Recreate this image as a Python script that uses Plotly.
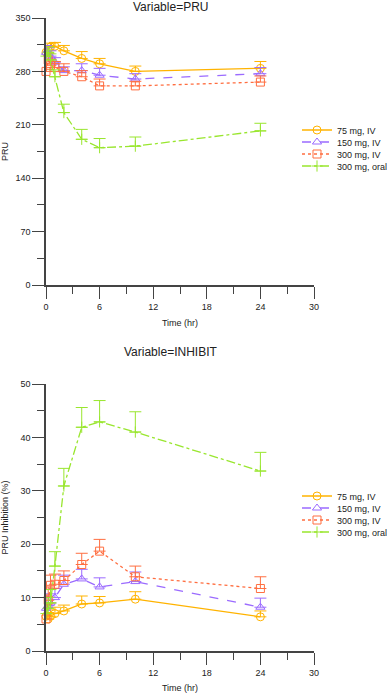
import plotly.graph_objects as go
from plotly.subplots import make_subplots

times = [0, 0.25, 0.5, 1, 2, 4, 6, 10, 24]
groups = ["75 mg, IV", "150 mg, IV", "300 mg, IV", "300 mg, oral"]

# PRU means and (upper) errors
pru_75 = [305, 308, 312, 313, 307, 297, 290, 280, 284]
pru_75_err = [8, 6, 5, 5, 7, 9, 7, 7, 9]
pru_150 = [305, 303, 300, 292, 281, 281, 275, 270, 277]
pru_150_err = [9, 8, 7, 6, 5, 9, 9, 7, 8]
pru_300 = [280, 295, 288, 285, 280, 273, 261, 261, 266]
pru_300_err = [10, 9, 8, 8, 10, 8, 9, 6, 8]
pru_oral = [300, 305, 295, 273, 226, 191, 180, 182, 202]
pru_oral_err = [8, 7, 8, 9, 11, 13, 12, 12, 10]

# PRU inhibition (%) means and (upper) errors
inh_75 = [6.5, 6.0, 6.5, 7.0, 7.5, 8.8, 9.0, 9.7, 6.4]
inh_75_err = [1.5, 1.2, 1.2, 1.2, 1.1, 1.5, 1.2, 1.4, 1.1]
inh_150 = [8.0, 8.5, 9.0, 10.0, 12.5, 13.5, 12.0, 13.0, 8.2]
inh_150_err = [2.0, 1.8, 1.7, 1.7, 1.7, 1.8, 1.7, 1.8, 1.7]
inh_300 = [6.0, 9.5, 12.3, 12.5, 13.2, 16.2, 18.7, 13.9, 11.7]
inh_300_err = [4.5, 2.5, 1.9, 1.9, 1.8, 2.1, 2.2, 2.0, 2.2]
inh_oral = [7.0, 8.0, 9.0, 15.9, 30.9, 41.9, 42.9, 41.0, 33.7]
inh_oral_err = [2.0, 2.0, 2.5, 2.7, 3.3, 3.7, 4.0, 3.8, 3.5]

colors = ["#FFB300", "#9B6BFF", "#FF6E40", "#99E62E"]
dashes = ["solid", "dash", "dot", "dashdot"]
symbols = ["circle-open", "triangle-up-open", "square-open", "cross-thin-open"]

pru = [(pru_75, pru_75_err), (pru_150, pru_150_err), (pru_300, pru_300_err), (pru_oral, pru_oral_err)]
inh = [(inh_75, inh_75_err), (inh_150, inh_150_err), (inh_300, inh_300_err), (inh_oral, inh_oral_err)]

FONT = "Liberation Sans"
TXT = "#222222"
W, H = 387, 693
ML, MR, MT, MB = 46, 73, 18, 42
plot_h = H - MT - MB
plot_w = W - ML - MR


def py(px):
    return (H - MB - px) / plot_h


def px_x(px):
    return (px - ML) / plot_w


fig = make_subplots(rows=2, cols=1)

legend_layout = {}
legend_centers = {1: [130, 142, 154, 166], 2: [496, 508, 520, 532]}
k = 0
for row, data in [(1, pru), (2, inh)]:
    for i, (vals, errs) in enumerate(data):
        k += 1
        lname = "legend" if k == 1 else f"legend{k}"
        fig.add_trace(go.Scatter(
            x=times, y=vals, name=groups[i], mode="lines+markers",
            line=dict(color=colors[i], width=1.3, dash=dashes[i]),
            marker=dict(symbol=symbols[i], size=8, color=colors[i],
                        line=dict(width=1, color=colors[i])),
            error_y=dict(type="data", symmetric=False, array=errs,
                         arrayminus=[0] * len(errs), color=colors[i],
                         thickness=1, width=6),
            cliponaxis=False, legend=lname, showlegend=True,
        ), row=row, col=1)
        legend_layout[lname] = dict(
            x=px_x(297), y=py(legend_centers[row][i]),
            xanchor="left", yanchor="middle",
            font=dict(family=FONT, size=9, color=TXT), itemwidth=30,
            bgcolor="rgba(0,0,0,0)", borderwidth=0,
        )

axis_common = dict(showgrid=False, zeroline=False, showline=True,
                   linecolor="#444444", linewidth=1.5, ticks="outside",
                   ticklen=12, tickwidth=1, tickcolor="#444444",
                   tickfont=dict(family=FONT, size=9, color=TXT),
                   mirror=False)

fig.update_xaxes(range=[0, 30], dtick=6, tick0=0,
                 minor=dict(dtick=3, ticklen=7, ticks="outside", tickcolor="#444444"),
                 title=dict(text="Time (hr)", font=dict(family=FONT, size=9, color=TXT), standoff=9),
                 **axis_common)
fig.update_yaxes(range=[0, 350], dtick=70, tick0=0,
                 minor=dict(dtick=35, ticklen=7, ticks="outside", tickcolor="#444444"),
                 title=dict(text="PRU", font=dict(family=FONT, size=9, color=TXT), standoff=18),
                 row=1, col=1, **axis_common)
fig.update_yaxes(range=[0, 50], dtick=10, tick0=0,
                 minor=dict(dtick=5, ticklen=7, ticks="outside", tickcolor="#444444"),
                 title=dict(text="PRU Inhibition (%)", font=dict(family=FONT, size=9, color=TXT), standoff=20),
                 row=2, col=1, **axis_common)

fig.update_layout(
    width=W, height=H, showlegend=True,
    margin=dict(l=ML, r=MR, t=MT, b=MB, autoexpand=False),
    plot_bgcolor="white", paper_bgcolor="white",
    font=dict(family=FONT, size=9, color=TXT),
    xaxis=dict(domain=[0, 1]), xaxis2=dict(domain=[0, 1]),
    yaxis=dict(domain=[py(285), 1.0]), yaxis2=dict(domain=[0.0, py(384)]),
    annotations=[
        dict(text="Variable=PRU", x=px_x(170), y=1.0, xref="paper", yref="paper",
             xanchor="center", yanchor="middle", yshift=11, showarrow=False,
             font=dict(family=FONT, size=12, color=TXT)),
        dict(text="Variable=INHIBIT", x=px_x(170), y=py(384), xref="paper", yref="paper",
             xanchor="center", yanchor="middle", yshift=32, showarrow=False,
             font=dict(family=FONT, size=12, color=TXT)),
    ],
    **legend_layout,
)

fig.write_html(
    "out.html",
    config={"displayModeBar": False},
    post_script="document.body.style.margin='0';document.body.style.overflow='hidden';",
)
